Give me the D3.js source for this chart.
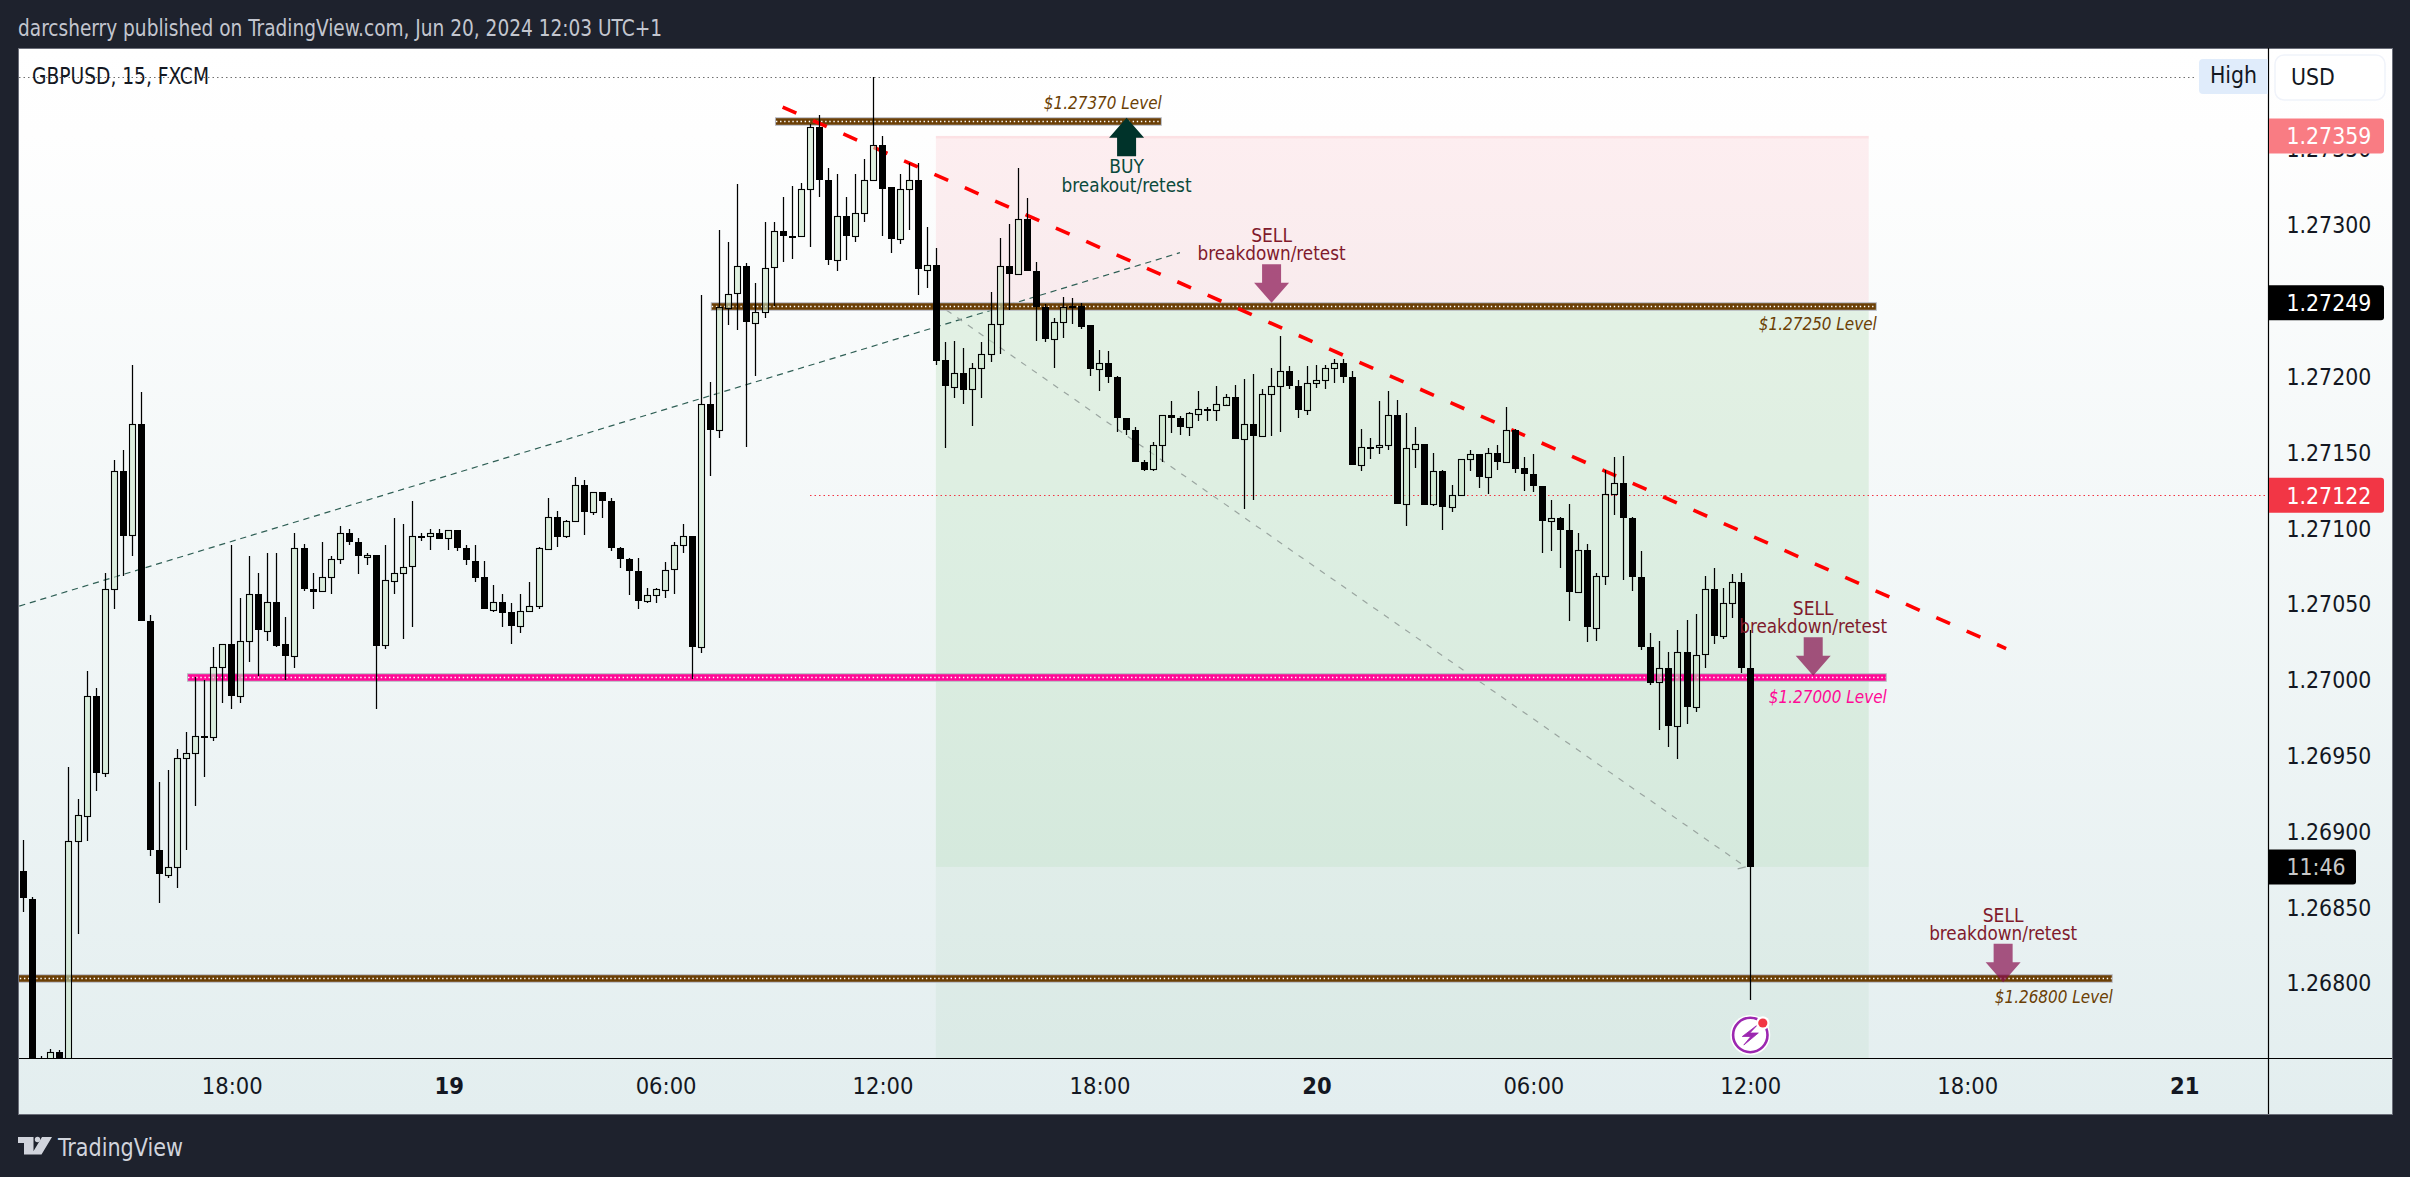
<!DOCTYPE html>
<html><head><meta charset="utf-8">
<script src="https://cdn.jsdelivr.net/npm/d3@7"></script>
<style>html,body{margin:0;padding:0;background:#1e222d;overflow:hidden}svg{display:block}
text{font-family:"DejaVu Sans Condensed","DejaVu Sans",sans-serif;font-stretch:condensed}</style>
</head><body><div id="chart"></div>
<script>
// bar index 0 = Jun 18 18:00, one bar per 15 minutes; first bar is index -23
const firstBar=-23;
const opens=[1.26874,1.26856,1.26743,1.26748,1.26755,1.26746,1.26894,1.26911,1.26990,1.26939,
1.27060,1.27138,1.27096,1.27169,1.27039,1.26888,1.26872,1.26877,1.26949,1.26952,
1.26963,1.26963,1.27009,1.27024,1.26990,1.27026,1.27057,1.27033,1.27052,1.27024,
1.27016,1.27087,1.27060,1.27059,1.27068,1.27080,1.27097,1.27091,1.27082,1.27083,
1.27023,1.27066,1.27071,1.27075,1.27095,1.27095,1.27097,1.27094,1.27099,1.27087,
1.27079,1.27068,1.27047,1.27052,1.27045,1.27036,1.27046,1.27049,1.27087,1.27108,
1.27095,1.27105,1.27129,1.27111,1.27124,1.27118,1.27087,1.27080,1.27072,1.27052,
1.27056,1.27060,1.27073,1.27089,1.27095,1.27022,1.27182,1.27165,1.27246,1.27255,
1.27273,1.27236,1.27243,1.27272,1.27296,1.27293,1.27293,1.27324,1.27365,1.27330,
1.27277,1.27306,1.27293,1.27308,1.27330,1.27353,1.27325,1.27291,1.27324,1.27330,
1.27271,1.27274,1.27211,1.27194,1.27203,1.27192,1.27206,1.27215,1.27235,1.27273,
1.27268,1.27304,1.27270,1.27246,1.27225,1.27236,1.27247,1.27247,1.27234,1.27205,
1.27209,1.27200,1.27173,1.27165,1.27144,1.27139,1.27155,1.27175,1.27173,1.27167,
1.27176,1.27179,1.27178,1.27182,1.27187,1.27159,1.27169,1.27161,1.27189,1.27194,
1.27204,1.27194,1.27178,1.27196,1.27198,1.27206,1.27209,1.27200,1.27142,1.27154,
1.27154,1.27155,1.27175,1.27116,1.27153,1.27156,1.27116,1.27138,1.27114,1.27122,
1.27146,1.27149,1.27134,1.27150,1.27144,1.27165,1.27140,1.27136,1.27128,1.27105,
1.27107,1.27099,1.27058,1.27086,1.27035,1.27069,1.27123,1.27130,1.27107,1.27068,
1.27022,1.26999,1.27008,1.26970,1.27019,1.26983,1.27017,1.27060,1.27029,1.27051,
1.27065,1.27008];
const highs=[1.26895,1.26857,1.26752,1.26757,1.26756,1.26943,1.26922,1.27006,1.26995,1.27071,
1.27145,1.27152,1.27208,1.27190,1.27043,1.26933,1.26941,1.26955,1.26966,1.27002,
1.27000,1.27022,1.27024,1.27089,1.27054,1.27082,1.27071,1.27084,1.27084,1.27042,
1.27097,1.27090,1.27071,1.27091,1.27082,1.27102,1.27100,1.27094,1.27084,1.27083,
1.27089,1.27107,1.27103,1.27118,1.27097,1.27100,1.27100,1.27099,1.27099,1.27089,
1.27089,1.27079,1.27063,1.27057,1.27051,1.27057,1.27065,1.27088,1.27120,1.27112,
1.27106,1.27134,1.27132,1.27124,1.27124,1.27120,1.27088,1.27081,1.27081,1.27061,
1.27061,1.27078,1.27091,1.27103,1.27095,1.27254,1.27197,1.27297,1.27289,1.27327,
1.27275,1.27262,1.27302,1.27302,1.27319,1.27326,1.27328,1.27367,1.27373,1.27338,
1.27334,1.27319,1.27334,1.27344,1.27398,1.27359,1.27325,1.27334,1.27341,1.27341,
1.27299,1.27285,1.27223,1.27224,1.27219,1.27209,1.27223,1.27256,1.27292,1.27301,
1.27338,1.27318,1.27276,1.27248,1.27239,1.27253,1.27252,1.27249,1.27234,1.27218,
1.27217,1.27201,1.27173,1.27167,1.27145,1.27157,1.27175,1.27184,1.27174,1.27177,
1.27191,1.27180,1.27194,1.27189,1.27195,1.27199,1.27202,1.27192,1.27206,1.27227,
1.27207,1.27198,1.27207,1.27208,1.27208,1.27212,1.27212,1.27204,1.27166,1.27160,
1.27184,1.27191,1.27185,1.27176,1.27167,1.27156,1.27150,1.27139,1.27129,1.27146,
1.27152,1.27149,1.27153,1.27155,1.27180,1.27166,1.27147,1.27149,1.27128,1.27119,
1.27108,1.27116,1.27097,1.27090,1.27071,1.27139,1.27147,1.27148,1.27108,1.27085,
1.27031,1.27026,1.27019,1.27033,1.27040,1.27044,1.27069,1.27074,1.27061,1.27070,
1.27071,1.27033];
const lows=[1.26847,1.26733,1.26740,1.26746,1.26746,1.26743,1.26833,1.26894,1.26927,1.26936,
1.27047,1.27069,1.27082,1.27039,1.26884,1.26853,1.26870,1.26863,1.26888,1.26917,
1.26936,1.26960,1.26985,1.26981,1.26985,1.27012,1.27003,1.27026,1.27022,1.27000,
1.27008,1.27059,1.27047,1.27059,1.27057,1.27077,1.27089,1.27070,1.27076,1.26981,
1.27021,1.27057,1.27027,1.27035,1.27092,1.27086,1.27093,1.27086,1.27085,1.27076,
1.27065,1.27047,1.27045,1.27035,1.27024,1.27031,1.27045,1.27047,1.27086,1.27088,
1.27094,1.27105,1.27096,1.27109,1.27107,1.27085,1.27074,1.27056,1.27047,1.27051,
1.27051,1.27054,1.27057,1.27084,1.27001,1.27018,1.27135,1.27160,1.27234,1.27231,
1.27154,1.27201,1.27239,1.27247,1.27276,1.27278,1.27293,1.27286,1.27319,1.27274,
1.27270,1.27277,1.27289,1.27302,1.27330,1.27293,1.27282,1.27288,1.27297,1.27254,
1.27259,1.27208,1.27153,1.27186,1.27182,1.27168,1.27186,1.27210,1.27215,1.27244,
1.27267,1.27270,1.27224,1.27223,1.27206,1.27226,1.27235,1.27232,1.27201,1.27191,
1.27196,1.27164,1.27162,1.27144,1.27138,1.27138,1.27144,1.27163,1.27162,1.27161,
1.27171,1.27171,1.27171,1.27182,1.27159,1.27113,1.27119,1.27161,1.27161,1.27164,
1.27192,1.27173,1.27175,1.27193,1.27192,1.27196,1.27196,1.27142,1.27138,1.27146,
1.27149,1.27152,1.27116,1.27102,1.27140,1.27116,1.27115,1.27099,1.27111,1.27122,
1.27138,1.27127,1.27123,1.27139,1.27144,1.27137,1.27125,1.27124,1.27084,1.27085,
1.27074,1.27039,1.27058,1.27025,1.27026,1.27063,1.27109,1.27066,1.27059,1.27020,
1.26997,1.26967,1.26956,1.26948,1.26971,1.26979,1.27008,1.27024,1.27027,1.27041,
1.27005,1.26789];
const closes=[1.26856,1.26736,1.26746,1.26755,1.26748,1.26894,1.26911,1.26990,1.26939,1.27060,
1.27138,1.27095,1.27169,1.27039,1.26888,1.26872,1.26877,1.26949,1.26952,1.26963,
1.26963,1.27009,1.27024,1.26990,1.27026,1.27057,1.27033,1.27052,1.27023,1.27016,
1.27087,1.27060,1.27058,1.27068,1.27080,1.27097,1.27091,1.27082,1.27083,1.27023,
1.27066,1.27071,1.27075,1.27095,1.27095,1.27097,1.27093,1.27099,1.27087,1.27079,
1.27068,1.27047,1.27052,1.27045,1.27036,1.27046,1.27049,1.27087,1.27108,1.27095,
1.27105,1.27129,1.27111,1.27124,1.27118,1.27087,1.27080,1.27072,1.27052,1.27056,
1.27060,1.27073,1.27089,1.27095,1.27022,1.27182,1.27165,1.27246,1.27255,1.27273,
1.27236,1.27243,1.27272,1.27296,1.27293,1.27293,1.27324,1.27365,1.27330,1.27277,
1.27306,1.27293,1.27308,1.27330,1.27353,1.27324,1.27291,1.27324,1.27330,1.27271,
1.27274,1.27211,1.27194,1.27203,1.27192,1.27206,1.27215,1.27235,1.27273,1.27268,
1.27304,1.27270,1.27246,1.27225,1.27236,1.27246,1.27246,1.27233,1.27205,1.27209,
1.27200,1.27173,1.27165,1.27144,1.27139,1.27155,1.27175,1.27173,1.27167,1.27176,
1.27179,1.27178,1.27182,1.27187,1.27159,1.27169,1.27161,1.27189,1.27194,1.27204,
1.27194,1.27178,1.27196,1.27198,1.27206,1.27209,1.27200,1.27142,1.27154,1.27154,
1.27155,1.27175,1.27116,1.27153,1.27156,1.27116,1.27138,1.27114,1.27122,1.27146,
1.27149,1.27134,1.27150,1.27144,1.27165,1.27139,1.27136,1.27128,1.27105,1.27107,
1.27099,1.27058,1.27086,1.27035,1.27069,1.27123,1.27130,1.27107,1.27068,1.27022,
1.26998,1.27008,1.26970,1.27019,1.26983,1.27017,1.27060,1.27029,1.27051,1.27065,
1.27008,1.26877];

const priceTicks=[1.268,1.2685,1.269,1.2695,1.27,1.2705,1.271,1.2715,1.272,1.2725,1.273,1.2735];
const timeTicks=[0,24,48,72,96,120,144,168,192,216];
const timeLabels=["18:00","19","06:00","12:00","18:00","20","06:00","12:00","18:00","21"];
const boldLabels=["19","20","21"];

const levelPrices=[1.27369,1.27247,1.27002,1.26804];
const levelStart=[60.1,53,-4.94,-24];
const levelEnd=[102.9,182,183.1,208.1];
const levelColors=["#6b3f05","#6b3f05","#ff0a96","#6b3f05"];
const levelTexts=["$1.27370 Level","$1.27250 Level","$1.27000 Level","$1.26800 Level"];
const levelTextDy=[-18,18,18.7,19];

const arrowBars=[99,115.04,174.96,195.97];
const arrowPrices=[1.27371,1.27249,1.27003,1.26801];
const arrowDirs=["BUY","SELL","SELL","SELL"];
const arrowSub=["breakout/retest","breakdown/retest","breakdown/retest","breakdown/retest"];

const redTrendBars=[60.95,196.3], redTrendPrices=[1.27378,1.27021];
const thinTrendBars=[-23.5,104.9], thinTrendPrices=[1.27049,1.27282];
const positionBars=[77.9,181.1];
const positionStop=1.27359, positionEntry=1.27249, positionClose=1.26877, positionTarget=1.2674;
const positionLineBars=[77.9,167.5];
const highPrice=1.27398, lastPrice=1.27122, closeBar=168;

const W=2410,H=1177;
const L=19,T=48,PR=2268,FR=2392,PB=1058,FB=1114;
const x=d3.scaleLinear().domain([0,168]).range([231.7,1750.3]);
const y=d3.scaleLinear().domain([1.268,1.273]).range([983.7,225.4]);
const snap=v=>Math.round(v)+.5;

const svg=d3.select("#chart").append("svg").attr("width",W).attr("height",H);
const defs=svg.append("defs");
const g=defs.append("linearGradient").attr("id","bg").attr("x1",0).attr("x2",0).attr("y1",0).attr("y2",1);
g.append("stop").attr("offset",0).attr("stop-color","#ffffff");
g.append("stop").attr("offset",0.08).attr("stop-color","#fefefe");
g.append("stop").attr("offset",1).attr("stop-color","#e3eeef");
defs.append("clipPath").attr("id","plot").append("rect").attr("x",L).attr("y",T).attr("width",PR-L).attr("height",PB-T);

svg.append("rect").attr("width",W).attr("height",H).attr("fill","#1e222d");
svg.append("rect").attr("x",18.5).attr("y",48.5).attr("width",FR-18).attr("height",FB-48).attr("fill","url(#bg)").attr("stroke","#6a6d78").attr("stroke-width",1);

svg.append("text").attr("x",18).attr("y",28).attr("dy",".35em").attr("font-size",22.5).attr("fill","#c3c6cf")
  .attr("textLength",644).attr("lengthAdjust","spacingAndGlyphs")
  .text("darcsherry published on TradingView.com, Jun 20, 2024 12:03 UTC+1");

const plot=svg.append("g").attr("clip-path","url(#plot)");
const zx=x(positionBars[0]),zw=x(positionBars[1])-zx;
plot.append("rect").attr("x",zx).attr("y",y(positionStop)).attr("width",zw).attr("height",y(positionEntry)-y(positionStop)).attr("fill","#f7525f").attr("opacity",.09);
plot.append("rect").attr("x",zx).attr("y",y(positionStop)).attr("width",zw).attr("height",2.5).attr("fill","#f7525f").attr("opacity",.08);
plot.append("rect").attr("x",zx).attr("y",y(positionEntry)).attr("width",zw).attr("height",y(positionClose)-y(positionEntry)).attr("fill","#4caf50").attr("opacity",.13);
plot.append("rect").attr("x",zx).attr("y",y(positionClose)).attr("width",zw).attr("height",y(positionTarget)-y(positionClose)).attr("fill","#4caf50").attr("opacity",.06);

plot.append("line").attr("x1",L).attr("x2",2197).attr("y1",snap(y(highPrice))).attr("y2",snap(y(highPrice))).attr("stroke","#707070").attr("stroke-width",1).attr("stroke-dasharray","1.5,3");
plot.append("line").attr("x1",810).attr("x2",PR).attr("y1",snap(y(lastPrice))).attr("y2",snap(y(lastPrice))).attr("stroke","#f23645").attr("stroke-width",1).attr("stroke-dasharray","1.5,3");

plot.append("line").attr("x1",x(thinTrendBars[0])).attr("x2",x(thinTrendBars[1])).attr("y1",y(thinTrendPrices[0])).attr("y2",y(thinTrendPrices[1])).attr("stroke","#2f5f55").attr("stroke-width",1.2).attr("stroke-dasharray","6.2,4.8");
plot.append("line").attr("x1",x(positionLineBars[0])).attr("x2",x(positionLineBars[1])).attr("y1",y(positionEntry)).attr("y2",y(positionClose)).attr("stroke","#9aa5a0").attr("stroke-width",1.2).attr("stroke-dasharray","6,7");
plot.append("line").attr("x1",x(positionLineBars[1])).attr("x2",x(positionLineBars[1]-0.9)).attr("y1",y(positionClose)).attr("y2",y(positionClose-0.000013)).attr("stroke","#9aa5a0").attr("stroke-width",1.2);

levelPrices.forEach((p,i)=>{
  const a=x(levelStart[i]),b=x(levelEnd[i]),v=snap(y(p));
  plot.append("line").attr("x1",a).attr("x2",b).attr("y1",v).attr("y2",v).attr("stroke","#b2b5be").attr("stroke-width",8.5);
  plot.append("line").attr("x1",a+1).attr("x2",b-1).attr("y1",v).attr("y2",v).attr("stroke",levelColors[i]).attr("stroke-width",6.5);
  plot.append("line").attr("x1",a+1).attr("x2",b-1).attr("y1",v).attr("y2",v).attr("stroke","#ffffff").attr("stroke-width",1.3).attr("stroke-dasharray","1.4,2.7");
  svg.append("text").attr("x",b-118).attr("y",y(p)+levelTextDy[i]).attr("dy",".35em").attr("font-style","italic").attr("font-size",18.5).attr("fill",levelColors[i])
    .attr("textLength",118).attr("lengthAdjust","spacingAndGlyphs").text(levelTexts[i]);
});

plot.append("line").attr("x1",x(redTrendBars[0])).attr("x2",x(redTrendBars[1])).attr("y1",y(redTrendPrices[0])).attr("y2",y(redTrendPrices[1])).attr("stroke","#ff0000").attr("stroke-width",3.6).attr("stroke-dasharray","15,18.2");

arrowBars.forEach((b,i)=>{
  const tx=x(b),ty=y(arrowPrices[i]),s=arrowDirs[i]==="BUY"?1:-1,buy=s===1;
  const pts=[[0,0],[17.5,20],[9.5,20],[9.5,38.5],[-9.5,38.5],[-9.5,20],[-17.5,20]].map(p=>[tx+p[0],ty+s*p[1]]);
  svg.append("path").attr("d",d3.line()(pts)+"Z").attr("fill",buy?"#00332a":"#880e4f").attr("opacity",buy?1:.7);
  const col=buy?"#0b4a3c":"#801a2c";
  svg.append("text").attr("x",tx).attr("y",ty+s*(buy?49:67)).attr("dy",".35em").attr("text-anchor","middle").attr("font-size",19).attr("fill",col).text(arrowDirs[i]);
  svg.append("text").attr("x",tx).attr("y",ty+s*(buy?68:49)).attr("dy",".35em").attr("text-anchor","middle").attr("font-size",19).attr("fill",col)
    .attr("textLength",buy?130:148).attr("lengthAdjust","spacingAndGlyphs").text(arrowSub[i]);
});

const bars=d3.range(opens.length).map(i=>({i:i+firstBar,o:opens[i],h:highs[i],l:lows[i],c:closes[i]}));
const cx=d=>Math.floor(x(d.i))+.5;
const candles=plot.append("g").selectAll("g").data(bars).join("g");
// wicks stop at the body so the translucent up-candle fill stays clean
candles.append("path").attr("d",d=>{
  const top=Math.round(y(Math.max(d.o,d.c))),bot=top+Math.round(Math.abs(y(d.o)-y(d.c)));
  return `M${cx(d)},${Math.round(y(d.h))}V${top}M${cx(d)},${bot}V${Math.round(y(d.l))}`;
}).attr("fill","none").attr("stroke","#000").attr("stroke-width",1.25);
candles.append("rect")
 .attr("x",d=>cx(d)-(d.c>d.o?3:3.5))
 .attr("width",d=>d.c>d.o?6:7)
 .attr("y",d=>{const v=Math.round(y(Math.max(d.o,d.c)));return d.c>d.o?v+.5:v;})
 .attr("height",d=>Math.max(d.c>d.o?1:2,Math.round(Math.abs(y(d.o)-y(d.c)))))
 .attr("fill",d=>d.c>d.o?"rgba(200,230,201,.55)":"#000")
 .attr("stroke",d=>d.c>d.o?"#000":"none")
 .attr("stroke-width",1.1);

// axes
svg.append("line").attr("x1",PR+.5).attr("x2",PR+.5).attr("y1",T).attr("y2",FB).attr("stroke","#000").attr("stroke-width",1.2);
svg.append("line").attr("x1",L).attr("x2",FR).attr("y1",PB+.5).attr("y2",PB+.5).attr("stroke","#000").attr("stroke-width",1.2);

const yAxis=svg.append("g").attr("transform",`translate(${PR},0)`).call(d3.axisRight(y).tickValues(priceTicks).tickFormat(d3.format(".5f")).tickSize(0).tickPadding(18.5));
yAxis.select(".domain").remove();
yAxis.selectAll("text").attr("font-size",22.8).attr("fill","#131722").style("font-family",'"DejaVu Sans Condensed","DejaVu Sans",sans-serif');
const xAxis=svg.append("g").attr("transform",`translate(0,${PB})`).call(d3.axisBottom(x).tickValues(timeTicks).tickFormat((d,i)=>timeLabels[i]).tickSize(0).tickPadding(19));
xAxis.select(".domain").remove();
xAxis.selectAll("text").attr("font-size",23.5).attr("fill","#131722").attr("font-weight",(d,i)=>boldLabels.includes(timeLabels[i])?700:400).style("font-family",'"DejaVu Sans Condensed","DejaVu Sans",sans-serif');

// price tags
function tag(price,fill,txtFill,label,w){
  const v=y(price);
  svg.append("path").attr("d",`M${PR+1},${v-17.5}H${PR+w-3}q3,0 3,3V${v+14.5}q0,3 -3,3H${PR+1}Z`).attr("fill",fill);
  svg.append("text").attr("x",PR+18.5).attr("y",v).attr("dy",".36em").attr("font-size",22.8).attr("fill",txtFill).text(label);
}
tag(positionStop,"#f97c83","#fff",d3.format(".5f")(positionStop),116);
tag(positionEntry,"#000","#fff",d3.format(".5f")(positionEntry),116);
tag(lastPrice,"#f23645","#fff",d3.format(".5f")(lastPrice),116);
tag(positionClose,"#000","#c8c8c8","11:46",88);

// High tag and currency button
svg.append("path").attr("d",`M2268,59H2203q-4,0 -4,4V90q0,4 4,4H2268Z`).attr("fill","#e0ecfb");
svg.append("text").attr("x",2233.5).attr("y",75.5).attr("dy",".35em").attr("text-anchor","middle").attr("font-size",22.8).attr("fill","#131722").text("High");
svg.append("rect").attr("x",2275).attr("y",55).attr("width",110).attr("height",45).attr("rx",9).attr("fill","#fff").attr("stroke","#f0f3fa").attr("stroke-width",1.5);
svg.append("text").attr("x",2291).attr("y",77).attr("dy",".36em").attr("font-size",22.8).attr("fill","#131722").text("USD");
svg.append("text").attr("x",32).attr("y",75.5).attr("dy",".36em").attr("font-size",22.8).attr("fill","#131722")
  .attr("textLength",177).attr("lengthAdjust","spacingAndGlyphs").text("GBPUSD, 15, FXCM");

// TradingView mark
svg.append("path").attr("fill","#d1d4dc").attr("d","M18,1137H33.5V1154.5H24V1143H18Z M42,1137H52L41.5,1154.5H31.5Z");
svg.append("circle").attr("cx",37.5).attr("cy",1139.5).attr("r",2.7).attr("fill","#d1d4dc");
svg.append("text").attr("x",58).attr("y",1147).attr("dy",".36em").attr("font-size",25).attr("fill","#d1d4dc")
  .attr("textLength",125).attr("lengthAdjust","spacingAndGlyphs").text("TradingView");

// flash marker
const mx=x(closeBar),my=1035;
svg.append("circle").attr("cx",mx).attr("cy",my).attr("r",20).attr("fill","#fff");
svg.append("circle").attr("cx",mx).attr("cy",my).attr("r",17.2).attr("fill","none").attr("stroke","#9c27b0").attr("stroke-width",2.6);
svg.append("path").attr("d",`M${mx+7},${my-10}L${mx-8},${my+1.5}H${mx+0.5}L${mx-6.5},${my+10}L${mx+8},${my-2}H${mx-0.5}Z`).attr("fill","#9c27b0").attr("stroke","#9c27b0").attr("stroke-width",.8).attr("stroke-linejoin","round");
svg.append("circle").attr("cx",mx+12.5).attr("cy",my-12).attr("r",6.8).attr("fill","#fff");
svg.append("circle").attr("cx",mx+12.5).attr("cy",my-12).attr("r",4.6).attr("fill","#f23645");
</script></body></html>
